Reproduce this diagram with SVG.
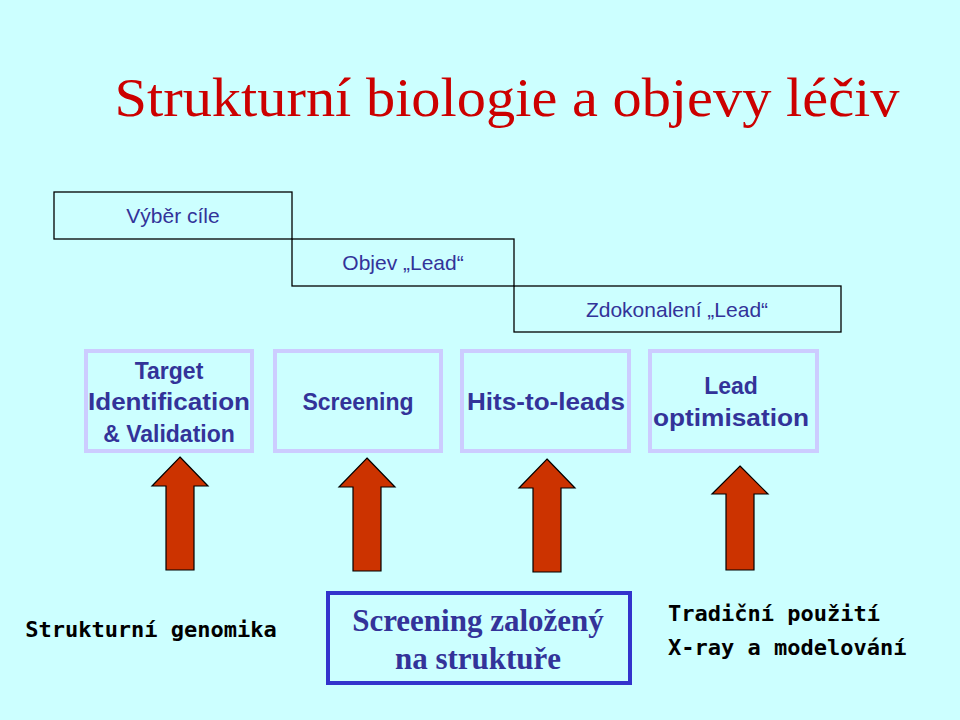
<svg xmlns="http://www.w3.org/2000/svg" width="960" height="720" viewBox="0 0 960 720">
<style>
.st{fill:none;stroke:#000;stroke-width:1.3}
.ph{fill:none;stroke:#ccccff;stroke-width:4}
.t{font-family:"Liberation Sans",Arial,sans-serif;fill:#333399;text-anchor:middle}
.tb{font-weight:bold;font-size:23px}
.mono{font-family:"DejaVu Sans Mono","Liberation Mono",monospace;font-weight:bold;font-size:22px;fill:#000}
.ar{fill:#cc3300;stroke:#000;stroke-width:1.2}
.sv{font-family:"Liberation Serif",serif;font-weight:bold;font-size:31px;fill:#333399;text-anchor:middle}
</style>
<defs><path id="arr" d="M0,0 L28,29 L14,29 L14,113 L-14,113 L-14,29 L-28,29 Z" class="ar"/></defs>
<rect width="960" height="720" fill="#ccffff"/>
<text x="507" y="116" text-anchor="middle" font-family="Liberation Serif,serif" font-size="54" fill="#cc0000" textLength="785" lengthAdjust="spacingAndGlyphs">Strukturní biologie a objevy léčiv</text>
<g id="stage1"><rect class="st" x="54" y="192" width="238" height="47"/><text class="t" x="173" y="223" font-size="21">Výběr cíle</text></g>
<g id="stage2"><rect class="st" x="292" y="239" width="222" height="47"/><text class="t" x="403" y="270" font-size="21">Objev „Lead“</text></g>
<g id="stage3"><rect class="st" x="514" y="286" width="327" height="46"/><text class="t" x="677" y="317" font-size="21">Zdokonalení „Lead“</text></g>
<g id="p1"><rect class="ph" x="86" y="351" width="166" height="100"/><text class="t tb" x="169" y="379">Target</text><text class="t tb" x="169" y="410" textLength="162" lengthAdjust="spacingAndGlyphs">Identification</text><text class="t tb" x="169" y="442">&amp; Validation</text></g>
<g id="p2"><rect class="ph" x="275" y="351" width="166" height="100"/><text class="t tb" x="358" y="410">Screening</text></g>
<g id="p3"><rect class="ph" x="462" y="351" width="167" height="100"/><text class="t tb" x="546" y="410" textLength="158" lengthAdjust="spacingAndGlyphs">Hits-to-leads</text></g>
<g id="p4"><rect class="ph" x="650" y="351" width="167" height="100"/><text class="t tb" x="731" y="394">Lead</text><text class="t tb" x="731" y="426" textLength="156" lengthAdjust="spacingAndGlyphs">optimisation</text></g>
<g id="connectors">
<use href="#arr" x="180" y="457"/>
<use href="#arr" x="367" y="458"/>
<use href="#arr" x="547" y="459"/>
<path class="ar" d="M740,466 L768,494 L754,494 L754,570 L726,570 L726,494 L712,494 Z"/>
</g>
<g id="b1"><text class="mono" x="151" y="637" text-anchor="middle">Strukturní genomika</text></g>
<g id="b2"><rect x="328" y="593" width="302" height="90" fill="none" stroke="#3333cc" stroke-width="4"/><text class="sv" x="478" y="631">Screening založený</text><text class="sv" x="478" y="669">na struktuře</text></g>
<g id="b3"><text class="mono" x="668" y="621" font-size="23">Tradiční použití</text><text class="mono" x="668" y="655" font-size="23">X-ray a modelování</text></g>
</svg>
